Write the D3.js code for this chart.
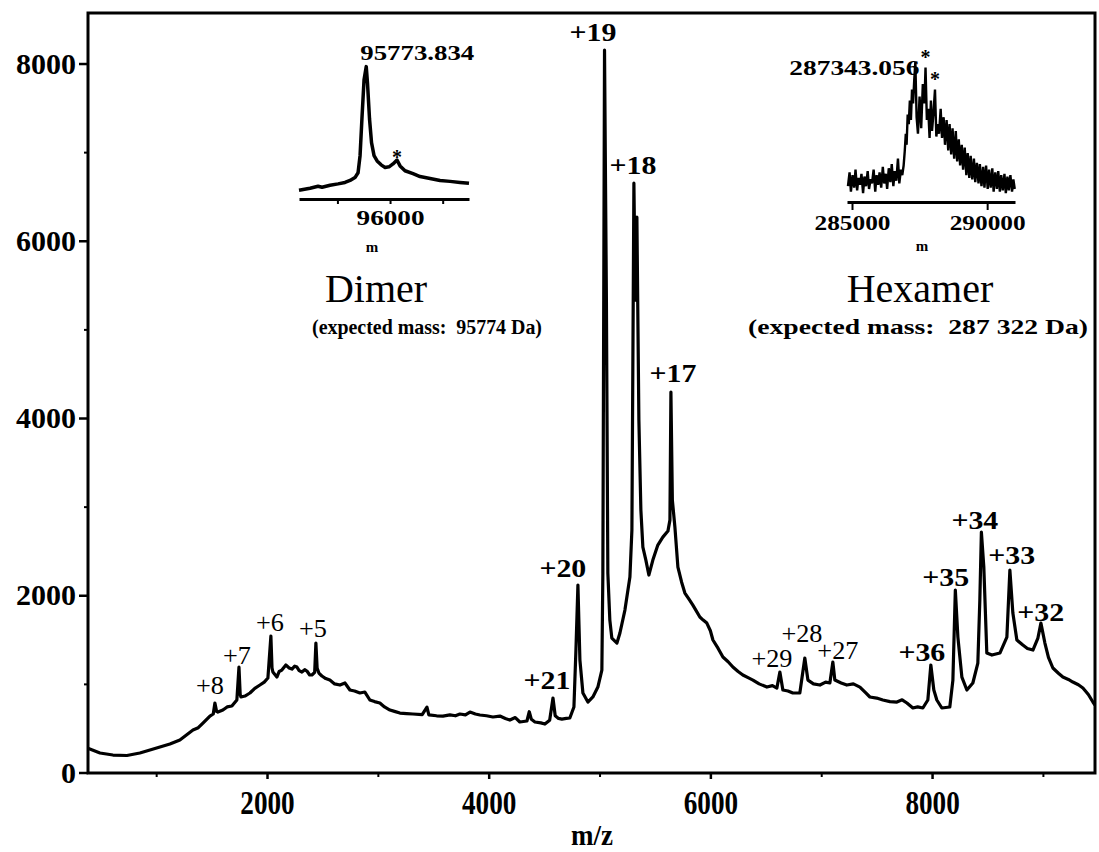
<!DOCTYPE html>
<html>
<head>
<meta charset="utf-8">
<script src="https://cdn.jsdelivr.net/npm/d3@7"></script>
<style>
  body { margin: 0; background: #fff; }
  svg { display: block; }
  text { font-family: "Liberation Serif", "Times New Roman", serif; fill: #000; }
</style>
</head>
<body>
<svg id="chart" width="1099" height="852"></svg>
<script>
// ---- Spectrum (m/z vs. intensity) ----
const mzValues = [
  390, 493, 610, 736, 853, 944, 1034, 1124, 1214, 1270, 1332, 1380, 1422, 1485, 1515, 1530, 1545, 1557,
  1602, 1640, 1683, 1728, 1747, 1758, 1765, 1801, 1846, 1890, 1936, 1975, 2008, 2035, 2045, 2053, 2089,
  2110, 2134, 2170, 2200, 2225, 2250, 2270, 2290, 2315, 2340, 2360, 2385, 2405, 2430, 2441, 2452, 2468,
  2495, 2530, 2567, 2610, 2658, 2703, 2748, 2790, 2838, 2883, 2928, 2970, 3018, 3060, 3109, 3150, 3199,
  3260, 3316, 3400, 3443, 3460, 3530, 3587, 3650, 3700, 3740, 3790, 3831, 3880, 3921, 3980, 4038, 4101,
  4150, 4191, 4240, 4281, 4345, 4366, 4385, 4417, 4470, 4507, 4550, 4580, 4600, 4630, 4660, 4700, 4732,
  4769, 4787, 4805, 4823, 4850, 4895, 4940, 4985, 5021, 5030, 5045, 5062, 5075, 5093, 5111, 5157, 5184,
  5229, 5274, 5292, 5310, 5323, 5337, 5355, 5373, 5391, 5418, 5445, 5481, 5526, 5571, 5617, 5635, 5644,
  5657, 5680, 5707, 5740, 5770, 5810, 5842, 5870, 5905, 5935, 5968, 6000, 6023, 6070, 6113, 6160, 6203,
  6250, 6293, 6340, 6384, 6440, 6510, 6560, 6600, 6627, 6654, 6700, 6744, 6807, 6852, 6880, 6930, 6988,
  7040, 7078, 7105, 7123, 7180, 7231, 7290, 7349, 7400, 7439, 7500, 7556, 7620, 7683, 7730, 7773, 7827,
  7870, 7917, 7962, 7989, 8016, 8043, 8088, 8160, 8188, 8210, 8233, 8269, 8314, 8368, 8413, 8431, 8445,
  8467, 8494, 8540, 8612, 8675, 8702, 8729, 8765, 8819, 8860, 8910, 8955, 8982, 9018, 9050, 9090, 9140,
  9180, 9230, 9270, 9320, 9361, 9410, 9451, 9470
];
const intensityValues = [
  270, 220, 197, 192, 220, 254, 288, 321, 367, 420, 479, 505, 558, 637, 660, 784, 690, 682,
  705, 740, 750, 818, 1190, 880, 852, 863, 897, 950, 987, 1020, 1066, 1540, 1180, 1134, 1077,
  1140, 1156, 1213, 1180, 1167, 1200, 1190, 1150, 1134, 1160, 1145, 1100, 1100, 1130, 1461, 1180, 1122,
  1089, 1060, 1043, 1000, 987, 1010, 931, 920, 897, 908, 818, 800, 784, 740, 705, 690, 671,
  665, 660, 652, 737, 650, 640, 637, 650, 640, 660, 650, 682, 660, 649, 640, 626, 637,
  610, 592, 620, 570, 581, 686, 600, 570, 560, 547, 590, 840, 640, 610, 603, 610, 615,
  739, 1382, 2115, 1269, 897, 795, 852, 964, 1156, 2250, 8150, 5330, 2250, 1720, 1517, 1461, 1574,
  1833, 2205, 2735, 6650, 5330, 6266, 3976, 2961, 2544, 2397, 2228, 2397, 2566, 2656, 2724, 2848, 4292,
  3074, 2769, 2318, 2150, 2025, 1950, 1889, 1830, 1754, 1720, 1686, 1600, 1495, 1400, 1303, 1250, 1190,
  1140, 1100, 1070, 1043, 1000, 964, 980, 953, 1134, 931, 920, 897, 897, 1292, 1043, 1000, 987,
  1020, 1010, 1246, 1043, 1010, 987, 1000, 964, 900, 852, 840, 818, 800, 795, 820, 784, 728,
  740, 728, 818, 1213, 931, 818, 728, 739, 1043, 2059, 1528, 1077, 931, 1010, 1235, 1946, 2713,
  2318, 1348, 1325, 1348, 1528, 2284, 1799, 1495, 1438, 1400, 1382, 1517, 1686, 1461, 1300, 1179, 1120,
  1077, 1050, 1021, 990, 953, 880, 795, 760
];

// Charge-state annotations (label centre m/z, label baseline intensity)
const chargeLabels    = ["+8", "+7", "+6", "+5", "+21", "+20", "+19", "+18", "+17", "+29", "+28", "+27", "+36", "+35", "+34", "+33", "+32"];
const chargeLabelMz   = [1485, 1728, 2026, 2414, 4525, 4669, 4940, 5301, 5662, 6555, 6826, 7150, 7908, 8124, 8386, 8719, 8981];
const chargeLabelInt  = [885, 1224, 1596, 1528, 942, 2205, 8251, 6751, 4405, 1190, 1472, 1280, 1258, 2104, 2747, 2352, 1709];

// Axis ticks
const yMajorTicks = [0, 2000, 4000, 6000, 8000];
const yMinorTicks = [1000, 3000, 5000, 7000];
const xMajorTicks = [2000, 4000, 6000, 8000];
const xMinorTicks = [1000, 3000, 5000, 7000, 9000];

// ---- Deconvoluted dimer ----
const dimerMass = [
  95135, 95240, 95316, 95354, 95430, 95506, 95572, 95620, 95667, 95696, 95715, 95734, 95753, 95773.834,
  95786, 95805, 95824, 95848, 95877, 95915, 95953, 95990, 96028, 96066, 96095, 96142, 96218, 96285,
  96380, 96475, 96570, 96665, 96750
];
const dimerIntensity = [
  3.7, 5.2, 6.7, 5.9, 7.4, 8.5, 9.6, 11.1, 13.3, 17, 30, 60, 88, 98,
  85, 58, 40, 30, 26, 23, 21, 21.5, 23.7, 26.7, 22.2, 18.5, 16.3, 14.1,
  12.6, 11.1, 10.4, 9.6, 8.9
];
const dimerTicks = [95500, 96000, 96500];
const dimerPeak = 95773.834;
const dimerAdduct = 96066;

// ---- Deconvoluted hexamer ----
const hexamerMass = [
  284850, 284910, 284960, 285020, 285080, 285130, 285190, 285240, 285300, 285350, 285410, 285460,
  285520, 285580, 285630, 285690, 285740, 285800, 285860, 285910, 285970, 286020, 286080, 286140,
  286190, 286250, 286300, 286360, 286420, 286470, 286530, 286580, 286640, 286700, 286750, 286810,
  286860, 286910, 286950, 286990, 287020, 287060, 287100, 287140, 287180, 287220, 287260, 287300,
  287343.056, 287390, 287440, 287500, 287560, 287620, 287680, 287720, 287770, 287820, 287870, 287920,
  287960, 288010, 288070, 288120, 288170, 288220, 288280, 288330, 288390, 288440, 288500, 288560,
  288610, 288670, 288720, 288780, 288840, 288890, 288950, 289000, 289060, 289110, 289170, 289230,
  289280, 289340, 289390, 289450, 289510, 289560, 289620, 289680, 289730, 289790, 289850, 289900,
  289960, 290020, 290070, 290130, 290190, 290240, 290300, 290360, 290410, 290470, 290520, 290580,
  290640, 290690, 290750, 290800, 290860, 290920, 290970, 291020
];
const hexamerIntensity = [
  10, 20, 6, 18, 9, 22, 7, 16, 11, 19, 5, 17,
  10, 21, 8, 15, 12, 22, 6, 18, 11, 20, 9, 24,
  12, 19, 8, 23, 13, 26, 10, 21, 14, 30, 12, 22,
  18, 25, 35, 48, 40, 62, 55, 72, 58, 80, 70, 86,
  100, 60, 48, 75, 52, 84, 70, 96, 58, 66, 45, 72,
  50, 62, 80, 46, 55, 48, 66, 45, 60, 40, 58, 36,
  55, 33, 52, 30, 50, 28, 44, 25, 40, 22, 38, 18,
  34, 16, 32, 15, 30, 13, 27, 12, 26, 10, 24, 9,
  25, 8, 22, 9, 23, 6, 20, 8, 21, 6, 18, 7,
  19, 5, 17, 7, 18, 6, 15, 8
];
const hexamerTicks = [285000, 290000];
const hexamerPeak = 287343.056;
const hexamerAdducts = [287720, 288070];

// ---------------------------------------------------------------
const svg = d3.select("#chart");
const W = 1099, H = 852;
const plot = { left: 88, top: 13, right: 1095, bottom: 773 };

const x = d3.scaleLinear().domain([385, 9470]).range([plot.left, plot.right]);
const y = d3.scaleLinear().domain([0, 8570]).range([772.5, plot.top]);

svg.append("rect").attr("width", W).attr("height", H).attr("fill", "#fff");

svg.append("defs").append("clipPath").attr("id", "plotClip")
  .append("rect")
  .attr("x", plot.left).attr("y", plot.top)
  .attr("width", plot.right - plot.left).attr("height", plot.bottom - plot.top);

// spectrum trace
const spectrum = mzValues.map((m, i) => [m, intensityValues[i]]);
svg.append("path")
  .datum(spectrum)
  .attr("clip-path", "url(#plotClip)")
  .attr("fill", "none")
  .attr("stroke", "#000")
  .attr("stroke-width", 3.2)
  .attr("stroke-linejoin", "round")
  .attr("d", d3.line().x(d => x(d[0])).y(d => y(d[1])));

// frame
svg.append("rect")
  .attr("x", plot.left).attr("y", plot.top)
  .attr("width", plot.right - plot.left).attr("height", plot.bottom - plot.top)
  .attr("fill", "none").attr("stroke", "#000").attr("stroke-width", 3);

// y axis
const yAxis = svg.append("g").attr("transform", `translate(${plot.left},0)`)
  .call(d3.axisLeft(y).tickValues(yMajorTicks).tickSize(9).tickPadding(3).tickSizeOuter(0).tickFormat(d3.format("d")));
yAxis.select(".domain").remove();
yAxis.selectAll("line").attr("stroke-width", 2.5);
yAxis.selectAll("text").attr("font-size", 30).attr("font-weight", "bold")
  .attr("font-family", "'Liberation Serif', serif");
const yMinor = svg.append("g").attr("transform", `translate(${plot.left},0)`)
  .call(d3.axisLeft(y).tickValues(yMinorTicks).tickSize(4).tickSizeOuter(0).tickFormat(""));
yMinor.select(".domain").remove();
yMinor.selectAll("line").attr("stroke-width", 2);

// x axis
const xAxis = svg.append("g").attr("transform", `translate(0,${plot.bottom})`)
  .call(d3.axisBottom(x).tickValues(xMajorTicks).tickSize(6).tickPadding(11).tickSizeOuter(0).tickFormat(d3.format("d")));
xAxis.select(".domain").remove();
xAxis.selectAll("line").attr("stroke-width", 2.5);
xAxis.selectAll("text")
  .attr("font-size", 34).attr("font-weight", "bold")
  .attr("font-family", "'Liberation Sans', Arial, sans-serif")
  .attr("transform", "scale(0.8,1)");
const xMinor = svg.append("g").attr("transform", `translate(0,${plot.bottom})`)
  .call(d3.axisBottom(x).tickValues(xMinorTicks).tickSize(4).tickSizeOuter(0).tickFormat(""));
xMinor.select(".domain").remove();
xMinor.selectAll("line").attr("stroke-width", 2);

svg.append("text")
  .attr("transform", "translate(592,845) scale(0.9,1)")
  .attr("text-anchor", "middle")
  .attr("font-family", "'Liberation Sans', Arial, sans-serif")
  .attr("font-weight", "bold").attr("font-size", 30)
  .text("m/z");

// charge-state labels
const regularLabels = new Set(["+8", "+7", "+6", "+5", "+29", "+28", "+27"]);
svg.append("g").selectAll("text")
  .data(chargeLabels)
  .join("text")
  .attr("transform", (d, i) => `translate(${x(chargeLabelMz[i])},${y(chargeLabelInt[i])}) scale(${regularLabels.has(d) ? 1.05 : 1.15},1)`)
  .attr("text-anchor", "middle")
  .attr("font-size", d => regularLabels.has(d) ? 25 : 26)
  .attr("font-weight", d => regularLabels.has(d) ? "normal" : "bold")
  .text(d => d);

// ---- dimer inset ----
const dx = d3.scaleLinear().domain([95135, 96750]).range([299, 469]);
const dy = d3.scaleLinear().domain([0, 100]).range([195, 64]);
const dimer = dimerMass.map((m, i) => [m, dimerIntensity[i]]);
svg.append("path").datum(dimer)
  .attr("fill", "none").attr("stroke", "#000").attr("stroke-width", 3.5)
  .attr("stroke-linejoin", "round")
  .attr("d", d3.line().x(d => dx(d[0])).y(d => dy(d[1])));
const dAxis = svg.append("g").attr("transform", "translate(0,199)")
  .call(d3.axisBottom(dx).tickValues(dimerTicks).tickSize(5).tickPadding(5).tickSizeOuter(0)
    .tickFormat(d => d === 96000 ? d3.format("d")(d) : ""));
dAxis.select(".domain").attr("stroke-width", 3);
dAxis.selectAll("line").attr("stroke-width", 2);
dAxis.selectAll("text").attr("font-size", 22).attr("font-weight", "bold")
  .attr("font-family", "'Liberation Serif', serif")
  .attr("textLength", 68).attr("lengthAdjust", "spacingAndGlyphs");
svg.append("text").attr("x", 372).attr("y", 252).attr("text-anchor", "middle")
  .attr("font-size", 15).attr("font-weight", "bold").text("m");
svg.append("text").attr("x", dx(dimerPeak) - 6).attr("y", 60)
  .attr("font-size", 21).attr("font-weight", "bold")
  .attr("textLength", 114).attr("lengthAdjust", "spacingAndGlyphs")
  .text(d3.format(".3f")(dimerPeak));
svg.append("text").attr("x", dx(dimerAdduct)).attr("y", dy(dimerIntensity[dimerMass.indexOf(dimerAdduct)]) + 4)
  .attr("text-anchor", "middle").attr("font-size", 20).attr("font-weight", "bold").text("*");
svg.append("text").attr("x", 376).attr("y", 302).attr("text-anchor", "middle")
  .attr("font-size", 40).text("Dimer");
svg.append("text").attr("x", 427).attr("y", 334).attr("text-anchor", "middle")
  .attr("font-size", 22).attr("font-weight", "bold").style("white-space", "pre")
  .attr("textLength", 230).attr("lengthAdjust", "spacingAndGlyphs")
  .text("(expected mass:  95774 Da)");

// ---- hexamer inset ----
const hx = d3.scaleLinear().domain([284815, 291030]).range([847, 1015]);
const hy = d3.scaleLinear().domain([0, 100]).range([200, 62]);
const hexamer = hexamerMass.map((m, i) => [m, hexamerIntensity[i]]);
svg.append("path").datum(hexamer)
  .attr("fill", "none").attr("stroke", "#000").attr("stroke-width", 2.4)
  .attr("stroke-linejoin", "miter")
  .attr("d", d3.line().x(d => hx(d[0])).y(d => hy(d[1])));
const hAxis = svg.append("g").attr("transform", "translate(0,202)")
  .call(d3.axisBottom(hx).tickValues(hexamerTicks).tickSize(8).tickPadding(4).tickSizeOuter(0)
    .tickFormat(d3.format("d")));
hAxis.select(".domain").attr("stroke-width", 3);
hAxis.selectAll("line").attr("stroke-width", 2);
hAxis.selectAll("text").attr("font-size", 22).attr("font-weight", "bold")
  .attr("font-family", "'Liberation Serif', serif")
  .attr("textLength", 76).attr("lengthAdjust", "spacingAndGlyphs");
svg.append("text").attr("x", 922).attr("y", 251).attr("text-anchor", "middle")
  .attr("font-size", 15).attr("font-weight", "bold").text("m");
svg.append("text").attr("x", hx(hexamerPeak) + 4).attr("y", 75)
  .attr("text-anchor", "end")
  .attr("font-size", 21).attr("font-weight", "bold")
  .attr("textLength", 130).attr("lengthAdjust", "spacingAndGlyphs")
  .text(d3.format(".3f")(hexamerPeak));
svg.append("g").selectAll("text").data(hexamerAdducts).join("text")
  .attr("x", d => hx(d))
  .attr("y", d => hy(hexamerIntensity[hexamerMass.indexOf(d)]) - 4)
  .attr("text-anchor", "middle").attr("font-size", 20).attr("font-weight", "bold").text("*");
svg.append("text").attr("x", 920).attr("y", 302).attr("text-anchor", "middle")
  .attr("font-size", 40).text("Hexamer");
svg.append("text").attr("x", 918).attr("y", 334).attr("text-anchor", "middle")
  .attr("font-size", 22).attr("font-weight", "bold").style("white-space", "pre")
  .attr("textLength", 340).attr("lengthAdjust", "spacingAndGlyphs")
  .text("(expected mass:  287 322 Da)");
</script>
</body>
</html>
